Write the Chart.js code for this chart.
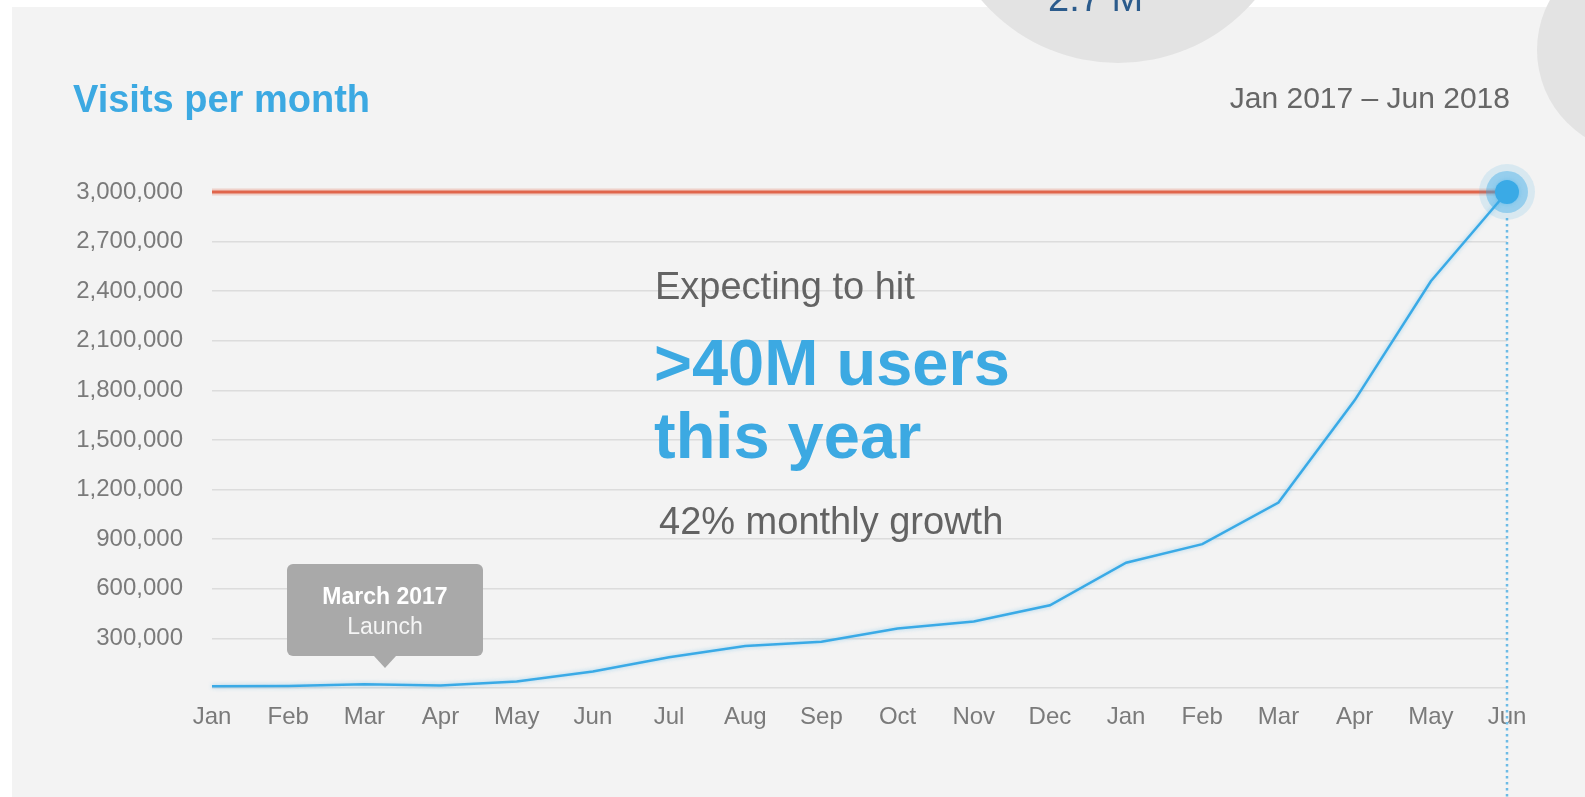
<!DOCTYPE html>
<html>
<head>
<meta charset="utf-8">
<script src="https://cdn.jsdelivr.net/npm/chart.js@4.4.1/dist/chart.umd.min.js"></script>
<style>
  html, body { margin: 0; padding: 0; background: #fff; overflow: hidden; }
  body { width: 1585px; height: 797px; position: relative; font-family: "Liberation Sans", Arial, Helvetica, sans-serif; }
  .panel { position: absolute; left: 12px; top: 7px; right: 0; bottom: 0; background: #f3f3f3; }
  #visitsChart { position: absolute; left: 0; top: 0; }
  .txt { position: absolute; white-space: nowrap; }
  #title { left: 73px; top: 80px; font-size: 38px; line-height: 38px; font-weight: bold; color: #3ca9e2; }
  #range { right: 75px; top: 83px; font-size: 30px; line-height: 30px; color: #666; }
  #expect { left: 655px; top: 267px; font-size: 38px; line-height: 38px; color: #636363; }
  .big { left: 654px; font-size: 65px; line-height: 65px; font-weight: bold; color: #3ca9e2; }
  #big1 { top: 330px; }
  #big2 { top: 403px; }
  #growth { left: 659px; top: 502px; font-size: 38px; line-height: 38px; color: #636363; }
  #launch { position: absolute; left: 287px; top: 564px; width: 196px; height: 92px; background: #a9a9a9; border-radius: 6px; color: #fff; text-align: center; }
  #launch::after { content: ""; position: absolute; left: 87px; top: 92px; border-left: 11px solid transparent; border-right: 11px solid transparent; border-top: 12px solid #a9a9a9; }
  #launch .l1 { position: absolute; left: 0; right: 0; top: 21px; font-size: 23px; line-height: 23px; font-weight: bold; }
  #launch .l2 { position: absolute; left: 0; right: 0; top: 51px; font-size: 23px; line-height: 23px; color: rgba(255,255,255,0.88); }
  .bubble { position: absolute; border-radius: 50%; background: #e3e3e3; }
  #bubbleTop { left: 938px; top: -297px; width: 360px; height: 360px; }
  #bubbleRight { left: 1537px; top: -53px; width: 206px; height: 206px; }
  #bubbleText { left: 1048px; top: -21px; font-size: 38px; line-height: 38px; color: #2b5b8c; }
</style>
</head>
<body>
<div class="panel"></div>
<canvas id="visitsChart" width="1585" height="797"></canvas>

<div id="title" class="txt">Visits per month</div>
<div id="range" class="txt">Jan 2017 – Jun 2018</div>
<div id="expect" class="txt">Expecting to hit</div>
<div id="big1" class="txt big">&gt;40M users</div>
<div id="big2" class="txt big">this year</div>
<div id="growth" class="txt">42% monthly growth</div>
<div id="launch"><div class="l1">March 2017</div><div class="l2">Launch</div></div>

<div id="bubbleTop" class="bubble"></div>
<div id="bubbleText" class="txt">2.7 M</div>
<div id="bubbleRight" class="bubble"></div>

<script>
const months = ["Jan", "Feb", "Mar", "Apr", "May", "Jun", "Jul", "Aug", "Sep",
                "Oct", "Nov", "Dec", "Jan", "Feb", "Mar", "Apr", "May", "Jun"];
const visits = [10000, 12000, 22000, 15000, 40000, 100000, 186000, 254000, 280000,
                360000, 402000, 500000, 758000, 870000, 1122000, 1740000, 2460000, 3000000];
const goal = 3000000;
const yTickValues = [0, 300000, 600000, 900000, 1200000, 1500000, 1800000,
                     2100000, 2400000, 2700000, 3000000];

const blue = "#3aaae6";
const labelGray = "#7a7a7a";

Chart.defaults.font.family = '"Liberation Sans", Arial, Helvetica, sans-serif';

// goal line, halo round the last point and the dotted drop line
const markers = {
  id: "markers",
  beforeDatasetsDraw(chart) {
    const { ctx, chartArea, scales } = chart;
    const last = chart.getDatasetMeta(0).data[visits.length - 1];
    const gy = scales.y.getPixelForValue(goal);

    ctx.save();
    ctx.strokeStyle = "rgba(226,103,77,0.25)";
    ctx.lineWidth = 7;
    ctx.beginPath();
    ctx.moveTo(chartArea.left, gy);
    ctx.lineTo(last.x, gy);
    ctx.stroke();
    ctx.strokeStyle = "#e0654b";
    ctx.lineWidth = 3;
    ctx.stroke();

    ctx.strokeStyle = "#6dbbe6";
    ctx.lineWidth = 2.5;
    ctx.setLineDash([2.5, 3.5]);
    ctx.beginPath();
    ctx.moveTo(last.x, last.y + 26);
    ctx.lineTo(last.x, chart.height);
    ctx.stroke();
    ctx.setLineDash([]);

    ctx.fillStyle = "rgba(58,170,230,0.14)";
    ctx.beginPath();
    ctx.arc(last.x, last.y, 28, 0, Math.PI * 2);
    ctx.fill();
    ctx.fillStyle = "rgba(58,170,230,0.42)";
    ctx.beginPath();
    ctx.arc(last.x, last.y, 21, 0, Math.PI * 2);
    ctx.fill();
    ctx.restore();
  },
  beforeDatasetDraw(chart) {
    const ctx = chart.ctx;
    ctx.save();
    ctx.shadowColor = "rgba(58,170,230,0.45)";
    ctx.shadowBlur = 4;
  },
  afterDatasetDraw(chart) {
    chart.ctx.restore();
  }
};

new Chart(document.getElementById("visitsChart"), {
  type: "line",
  data: {
    labels: months,
    datasets: [{
      data: visits,
      borderColor: blue,
      borderWidth: 2.5,
      tension: 0,
      fill: false,
      clip: false,
      pointRadius: ctx => ctx.dataIndex === visits.length - 1 ? 12 : 0,
      pointHoverRadius: ctx => ctx.dataIndex === visits.length - 1 ? 12 : 0,
      pointBackgroundColor: blue,
      pointBorderWidth: 0
    }]
  },
  options: {
    responsive: false,
    animation: false,
    events: [],
    layout: { padding: { left: 0, right: 78, top: 192, bottom: 49 } },
    plugins: { legend: { display: false }, tooltip: { enabled: false } },
    scales: {
      x: {
        grid: { display: false },
        border: { display: false },
        ticks: { color: labelGray, font: { size: 24 }, padding: 7, maxRotation: 0, autoSkip: false },
        afterFit: s => { s.height = 60; }
      },
      y: {
        min: 0,
        max: goal,
        afterBuildTicks: s => { s.ticks = yTickValues.map(v => ({ value: v })); },
        grid: { color: "#dcdcdc", lineWidth: 1.5, drawTicks: false },
        border: { display: false },
        ticks: {
          color: labelGray,
          font: { size: 24 },
          padding: 29,
          callback: v => v === 0 ? "" : v.toLocaleString("en-US")
        },
        afterFit: s => { s.width = 212; }
      }
    }
  },
  plugins: [markers]
});
</script>
</body>
</html>
